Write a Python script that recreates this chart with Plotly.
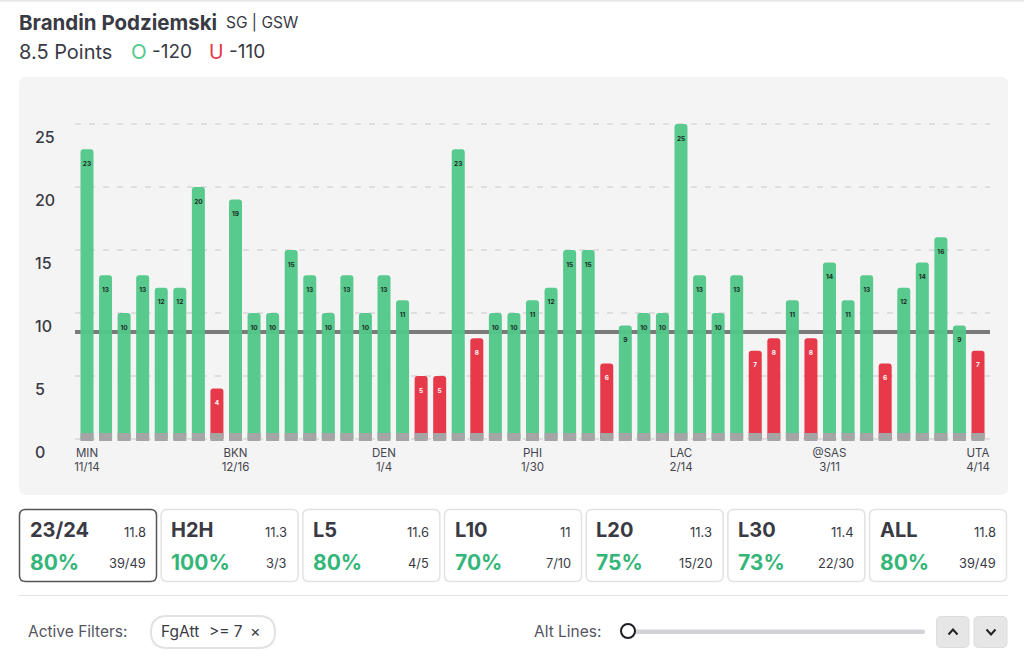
import plotly.graph_objects as go

PLAYER = "Brandin Podziemski"
POSITION = "SG | GSW"
LINE_VALUE = 8.5
values = [23, 13, 10, 13, 12, 12, 20, 4, 19, 10,
          10, 15, 13, 10, 13, 10, 13, 11, 5, 5,
          23, 8, 10, 10, 11, 12, 15, 15, 6, 9,
          10, 10, 25, 13, 10, 13, 7, 8, 11, 8,
          14, 11, 13, 6, 12, 14, 16, 9, 7]
tick_index = [0, 8, 16, 24, 32, 40, 48]
tick_labels = ["MIN<br>11/14", "BKN<br>12/16", "DEN<br>1/4", "PHI<br>1/30",
               "LAC<br>2/14", "@SAS<br>3/11", "UTA<br>4/14"]
y_ticks = [0, 5, 10, 15, 20, 25]
card_names = ["23/24", "H2H", "L5", "L10", "L20", "L30", "ALL"]
card_avgs = ["11.8", "11.3", "11.6", "11", "11.3", "11.4", "11.8"]
card_pcts = ["80%", "100%", "80%", "70%", "75%", "73%", "80%"]
card_fracs = ["39/49", "3/3", "4/5", "7/10", "15/20", "22/30", "39/49"]

W, H = 1024, 656
GREEN, RED, GRAY = "#52c98a", "#e63344", "#a5a5a5"
TEXT = "#3a3a44"
SANS = "Inter, 'Noto Sans', sans-serif"


def px(x):
    return x / W


def py(y):
    return 1 - y / H


def rrect(x0, y0, x1, y1, r):
    a, b, c, d = px(x0), py(y0), px(x1), py(y1)
    rx, ry = r / W, r / H
    return (f"M{a + rx},{b} L{c - rx},{b} Q{c},{b} {c},{b - ry} L{c},{d + ry} Q{c},{d} {c - rx},{d} "
            f"L{a + rx},{d} Q{a},{d} {a},{d + ry} L{a},{b - ry} Q{a},{b} {a + rx},{b} Z")


shapes = []


def box(x0, y0, x1, y1, r, fill, line="rgba(0,0,0,0)", width=1):
    shapes.append(dict(type="path", path=rrect(x0, y0, x1, y1, r), xref="paper", yref="paper",
                       fillcolor=fill, line=dict(color=line, width=width), layer="below"))


def hline(x0, x1, y, color, width):
    shapes.append(dict(type="line", xref="paper", yref="paper", x0=px(x0), x1=px(x1), y0=py(y), y1=py(y),
                       line=dict(color=color, width=width), layer="below"))


annotations = []


def label(x, y, text, size, color=TEXT, anchor="left", weight=400):
    annotations.append(dict(xref="paper", yref="paper", x=px(x), y=py(y), text=text, showarrow=False,
                            xanchor=anchor, yanchor="middle", align=anchor,
                            xshift=-2 if anchor == "left" else 1,
                            font=dict(size=size, color=color, family=SANS, weight=weight)))


hline(0, W, 0.8, "#e8e8e8", 2)
box(19, 77, 1008, 495, 7, "#f4f4f4")

# header
label(19, 22, PLAYER, 20.5, weight=700)
label(226, 23, POSITION, 15.5)
label(19, 52, "8.5 Points", 20)
label(131, 52, "O", 20.5, "#52c98a")
label(152, 52, "-120", 19)
label(209, 52, "U", 19.5, "#e63344")
label(229, 52, "-110", 19)

# cards
for i, (n, a, p, f) in enumerate(zip(card_names, card_avgs, card_pcts, card_fracs)):
    x = 19.5 + i * 141.67
    box(x, 509.5, x + 137, 581.5, 6, "#ffffff", "#555555" if i == 0 else "#e2e2e2", 1.5)
    label(x + 10.3, 530, n, 20, weight=700)
    label(x + 127, 532, a, 13, anchor="right")
    label(x + 10.3, 562, p, 21, "#35b679", weight=700)
    label(x + 127, 563, f, 12.8, anchor="right")

hline(19, 1008, 595.5, "#e5e5e5", 1)

# filters
label(28, 631, "Active Filters:", 15.5, "#55555f")
box(151, 616, 275, 648, 16, "#ffffff", "#e2e2e2", 2)
label(161, 631, "FgAtt", 15.5)
label(209, 631, "&gt;= 7", 15.5)
label(250, 631, "×", 16)
label(534, 631, "Alt Lines:", 15.5, "#55555f")
box(630, 629.5, 925, 634, 2, "#d2d3d7")
shapes.append(dict(type="circle", xref="paper", yref="paper", x0=px(621), x1=px(635), y0=py(638), y1=py(624),
                   fillcolor="#ffffff", line=dict(color="#1e1e24", width=2), layer="above"))
box(936.5, 616.5, 969, 647.5, 5, "#e6e6e6", "#dcdcdc", 1)
box(974, 616.5, 1007, 647.5, 5, "#e6e6e6", "#dcdcdc", 1)
for cx, d in [(953, -1), (991, 1)]:
    shapes.append(dict(type="path", xref="paper", yref="paper", layer="above",
                       path=f"M{px(cx - 4.5)},{py(632 - 2.5 * d)} L{px(cx)},{py(632 + 2.5 * d)} L{px(cx + 4.5)},{py(632 - 2.5 * d)}",
                       line=dict(color="#222228", width=2)))

# threshold line, under the bars
shapes.append(dict(type="line", xref="x", yref="y", x0=-0.646, x1=48.646, y0=LINE_VALUE, y1=LINE_VALUE,
                   line=dict(color="#7a7a7a", width=4), layer="between"))

xs = list(range(len(values)))
fig = go.Figure()
fig.add_bar(x=xs, y=values, width=0.7, opacity=0.96,
            marker=dict(color=[GREEN if v > LINE_VALUE else RED for v in values], line=dict(width=0), cornerradius=3),
            hoverinfo="skip", showlegend=False)
fig.add_bar(x=xs, y=[0.635] * len(values), base=-0.159, width=0.7,
            marker=dict(color=GRAY, line=dict(width=0)), hoverinfo="skip", showlegend=False)
fig.add_scatter(x=xs, y=[v - 1.19 for v in values], mode="text", text=[str(v) for v in values],
                textposition="middle center", hoverinfo="skip", showlegend=False,
                textfont=dict(size=6.5, family=SANS, weight=700,
                              color=["#1c2b22" if v > LINE_VALUE else "#ffffff" for v in values]))

fig.update_layout(
    width=W, height=H, margin=dict(l=0, r=0, t=0, b=0), barmode="overlay",
    paper_bgcolor="#ffffff", plot_bgcolor="rgba(0,0,0,0)", shapes=shapes, annotations=annotations,
    font=dict(family=SANS, color=TEXT),
    xaxis=dict(domain=[px(75), px(990)], range=[-0.646, 48.646], tickmode="array", tickvals=tick_index,
               ticktext=tick_labels, tickangle=0, showgrid=False, zeroline=False, showline=False, ticks="",
               automargin=False, tickfont=dict(size=11.5, color="#44444e"), ticklabelstandoff=3),
    yaxis=dict(domain=[py(441), py(100)], range=[-0.159, 26.9], tickmode="array", tickvals=y_ticks,
               anchor="free", position=px(31), side="left", ticklabelposition="inside", automargin=False,
               ticklabeloverflow="allow", ticklabelshift=13, showgrid=True, gridcolor="#dedede",
               griddash="6px,8px", gridwidth=1.5, zeroline=False, showline=False, ticks="",
               tickfont=dict(size=16, color=TEXT, weight=500)),
)
fig.write_html("out.html", config=dict(displayModeBar=False),
               post_script="document.body.style.margin='0';document.body.style.overflow='hidden';")
